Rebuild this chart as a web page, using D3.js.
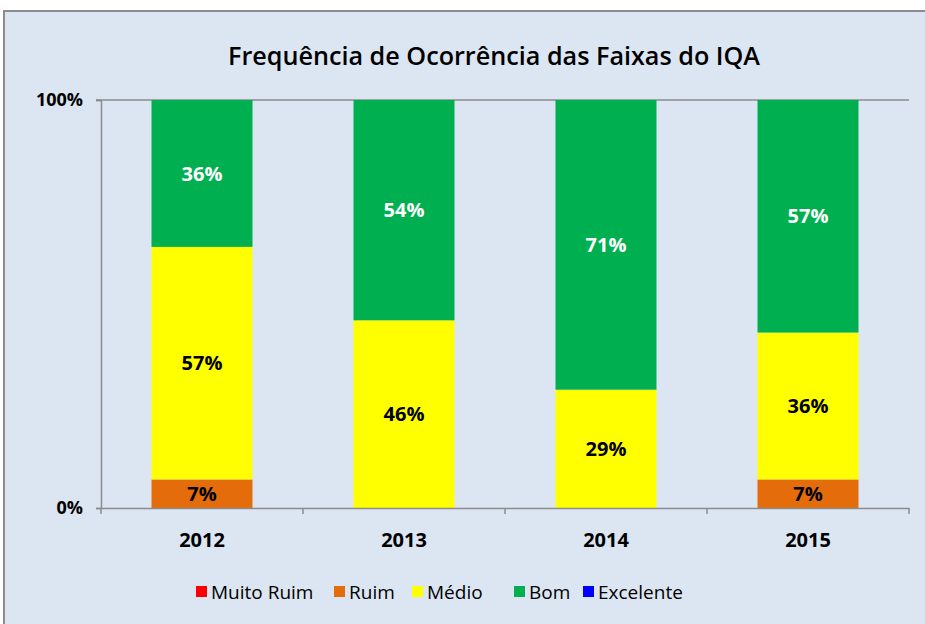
<!DOCTYPE html>
<html><head><meta charset="utf-8">
<script src="https://cdn.jsdelivr.net/npm/d3@7"></script>
<style>body{margin:0;background:#fff;}svg{display:block;}</style>
</head><body>
<svg id="c" width="925" height="624"></svg>
<script>
const categories = ["2012","2013","2014","2015"];
const seriesNames = ["Muito Ruim","Ruim","Médio","Bom","Excelente"];
const seriesColors = ["#ff0000","#e46c0a","#ffff00","#00b050","#0000ff"];
const muitoRuim = [0,0,0,0];
const ruim = [7,0,0,7];
const medio = [57,46,29,36];
const bom = [36,54,71,57];
const excelente = [0,0,0,0];
const yTickLabels = ["0%","100%"];
const title = "Frequência de Ocorrência das Faixas do IQA";

const svg = d3.select("#c");
const font = "'Open Sans', 'DejaVu Sans', sans-serif";

// frame
svg.append("rect").attr("x",4).attr("y",11).attr("width",940).attr("height",640)
  .attr("fill","#dce6f2").attr("stroke","#8c8c8c").attr("stroke-width",2);

const m = {l:101, r:909, t:100, b:508};
const x = d3.scaleBand().domain(categories).range([m.l,m.r]).paddingInner(0.5).paddingOuter(0.25);
const y = d3.scaleLinear().domain([0,100]).range([m.b,m.t]);

const rows = categories.map((c,i)=>({cat:c, "Muito Ruim":muitoRuim[i], "Ruim":ruim[i], "Médio":medio[i], "Bom":bom[i], "Excelente":excelente[i]}));
const stacked = d3.stack().keys(seriesNames)(rows);
const color = d3.scaleOrdinal().domain(seriesNames).range(seriesColors);

// top gridline
svg.append("line").attr("x1",m.l-5).attr("x2",m.r).attr("y1",y(100)).attr("y2",y(100))
  .attr("stroke","#8c8c8c").attr("stroke-width",1.5);

// bars
stacked.forEach(s=>{
  svg.append("g").selectAll("rect").data(s.filter(d=>d[1]-d[0]>0)).join("rect")
    .attr("x",d=>x(d.data.cat)).attr("width",x.bandwidth())
    .attr("y",d=>y(d[1])).attr("height",d=>y(d[0])-y(d[1]))
    .attr("fill",color(s.key));
  svg.append("g").selectAll("text").data(s.filter(d=>d[1]-d[0]>0)).join("text")
    .attr("x",d=>x(d.data.cat)+x.bandwidth()/2).attr("y",d=>y((d[0]+d[1])/2))
    .attr("dy","0.36em").attr("text-anchor","middle")
    .attr("font-family",font).attr("font-weight","bold").attr("font-size",20)
    .attr("fill",s.key==="Bom"?"#ffffff":"#000000")
    .text(d=>(d[1]-d[0])+"%");
});

// y axis
const yAxis = d3.axisLeft(y).tickValues([0,100]).tickSize(5).tickFormat((d,i)=>yTickLabels[i]);
const yg = svg.append("g").attr("transform",`translate(${m.l},0)`).call(yAxis);
yg.select(".domain").attr("stroke","#8c8c8c").attr("stroke-width",1.5);
yg.selectAll(".tick line").attr("stroke","#8c8c8c").attr("stroke-width",1.5);
yg.selectAll("text").attr("font-family",font).attr("font-weight","bold").attr("font-size",18)
  .attr("fill","#000").attr("x",-18);

// x axis
const xAxis = d3.axisBottom(x).tickSize(0);
const xg = svg.append("g").attr("transform",`translate(0,${m.b})`).call(xAxis);
xg.select(".domain").attr("stroke","#8c8c8c").attr("stroke-width",1.5);
xg.selectAll("text").attr("font-family",font).attr("font-weight","bold").attr("font-size",20)
  .attr("fill","#000").attr("dy","0").attr("y",39);
// category boundary ticks
const bounds = d3.range(categories.length+1).map(i=>m.l+i*(m.r-m.l)/categories.length);
svg.append("g").selectAll("line").data(bounds).join("line")
  .attr("x1",d=>d).attr("x2",d=>d).attr("y1",m.b).attr("y2",m.b+6)
  .attr("stroke","#8c8c8c").attr("stroke-width",1.5);

// title
svg.append("text").attr("x",494).attr("y",65).attr("text-anchor","middle")
  .attr("font-family",font).attr("font-weight",600).attr("font-size",26)
  .attr("textLength",532).attr("lengthAdjust","spacingAndGlyphs")
  .attr("fill","#000").text(title);

// legend
const legX = [196,334,412,514,583];
const lg = svg.append("g");
seriesNames.forEach((n,i)=>{
  lg.append("rect").attr("x",legX[i]).attr("y",586).attr("width",11).attr("height",11).attr("fill",seriesColors[i]);
  lg.append("text").attr("x",legX[i]+15).attr("y",592).attr("dy","0.36em")
    .attr("font-family",font).attr("font-size",19).attr("fill","#000").text(n);
});
</script>
</body></html>
